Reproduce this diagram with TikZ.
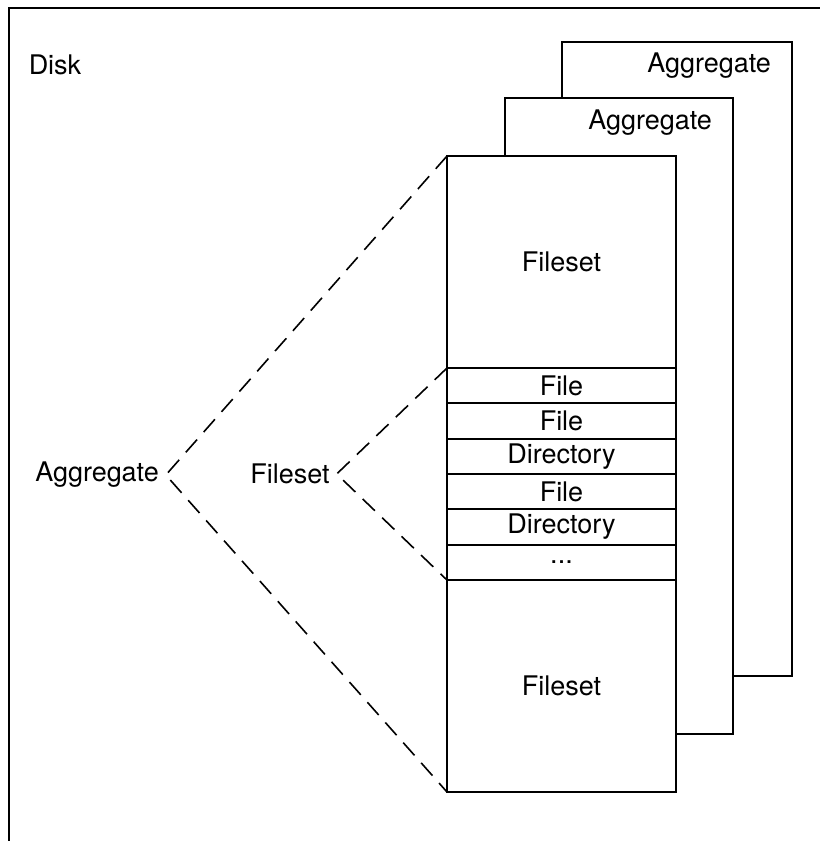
\documentclass[tikz,border=0pt]{standalone}
\usepackage{fontspec}
\setmainfont{TeX Gyre Heros}
\usepackage{tikz}
\usepackage{xcolor}
\usetikzlibrary{positioning}

\tikzset{
  part/.style={draw, line width=1pt, fill=white, anchor=north west, inner sep=0pt, outer sep=0pt,
    minimum width=114.5pt},
  bigpart/.style={part, minimum height=106pt},
  rowpart/.style={part, minimum height=17.67pt},
  zoomline/.style={dashed, line width=0.8pt, dash pattern=on 8.5pt off 5pt}
}

\begin{document}
\begin{tikzpicture}[x=0.5pt, y=-0.5pt, font=\fontsize{13.5}{16}\selectfont]
\useasboundingbox (0,0) rectangle (820,841);
% Draw the disk frame
\draw[line width=1pt] (9,841) |- (820,8);
\node (disk) at (55,65) {Disk};
% Draw the aggregates behind
\draw[line width=1pt, fill=white] (562,42) rectangle (792,676);
\node[anchor=east] (aggback) at (778,66) {Aggregate};
\draw[line width=1pt, fill=white] (505,98) rectangle (733,734);
\node[anchor=east] (aggmid) at (719,123) {Aggregate};
% Draw the front aggregate
\node[bigpart] (fstop) at (447,156) {Fileset};
\foreach \lbl [count=\i] in {File,File,Directory,File,Directory}
  \node[rowpart] (row\i) at (447,{368+35.33*(\i-1)}) {\lbl};
\node[rowpart] (row6) at (447,544.7) {...};
\node[bigpart] (fsbot) at (447,580) {Fileset};
% Labels on the left
\node (agg) at (97,475) {Aggregate};
\node (fs) at (290,474) {Fileset};
% Dashed zoom lines
\draw[zoomline] (fstop.north west) -- (agg.east) -- (fsbot.south west);
\draw[zoomline] (row1.north west) -- (fs.east) -- (row6.south west);
\end{tikzpicture}
\end{document}
